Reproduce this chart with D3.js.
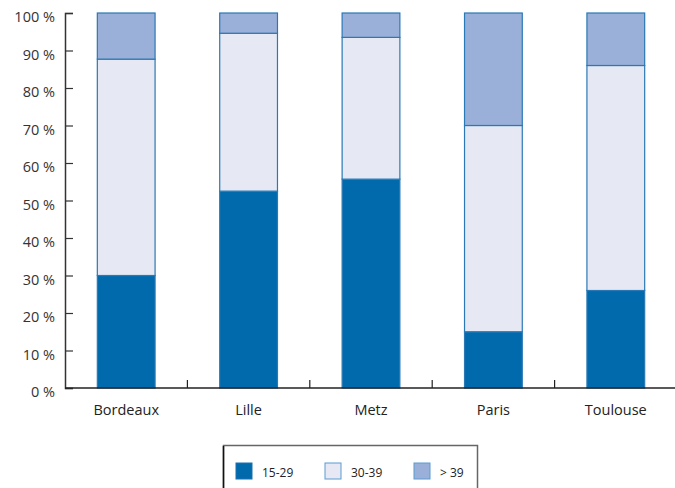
<!DOCTYPE html>
<html><head><meta charset="utf-8">
<script src="https://cdn.jsdelivr.net/npm/d3@7"></script>
<style>body{margin:0;background:#fff;}svg{display:block;font-family:"Open Sans",sans-serif;}</style>
</head><body>
<svg id="c" width="675" height="488"></svg>
<script>
const categories = ["Bordeaux","Lille","Metz","Paris","Toulouse"];
const seriesNames = ["15-29","30-39","> 39"];
const s1529 = [30, 52.5, 55.7, 15, 26];
const s3039 = [57.7, 42.1, 37.8, 55, 60];
const s39   = [12.3, 5.4, 6.5, 30, 14];
const yTicks = [0,10,20,30,40,50,60,70,80,90,100];
const colors = ["#006aac","#e6e9f3","#9bb0d8"];

const svg = d3.select("#c");
const x0 = 65, x1 = 677, yTop = 13, yBot = 388;
const x = d3.scaleBand().domain(categories).range([x0, x1]).paddingInner(0.52).paddingOuter(0.26);
const y = d3.scaleLinear().domain([0,100]).range([yBot, yTop]);

const rows = categories.map((c,i)=>({cat:c, "15-29":s1529[i], "30-39":s3039[i], "> 39":s39[i]}));
const stack = d3.stack().keys(seriesNames)(rows);

svg.append("g").selectAll("g").data(stack).join("g")
  .attr("fill",(d,i)=>colors[i])
  .selectAll("rect").data(d=>d).join("rect")
  .attr("x",d=>x(d.data.cat)+0.5)
  .attr("width",x.bandwidth()-1)
  .attr("y",d=>y(d[1]))
  .attr("height",d=>y(d[0])-y(d[1]))
  .attr("stroke","#2a78b5").attr("stroke-width",1.2);

// y axis
const ya = svg.append("g").attr("transform",`translate(${x0},0)`)
  .call(d3.axisRight(y).tickValues(yTicks).tickSize(8).tickFormat(""));
ya.select(".domain").attr("stroke","#333").attr("stroke-width",1.5);
ya.selectAll(".tick line").attr("stroke","#333").attr("stroke-width",1.2);
svg.append("g").selectAll("text").data(yTicks).join("text")
  .attr("x",55).attr("y",d=>y(d)+9).attr("text-anchor","end")
  .attr("font-size",14.5).attr("fill","#333").text(d=>d+" %");

// x axis
const step = x.step();
const sep = categories.slice(1).map((c,i)=>x0 + (i+1)*(x1-x0)/categories.length);
svg.append("line").attr("x1",x0).attr("x2",675).attr("y1",yBot).attr("y2",yBot)
  .attr("stroke","#222").attr("stroke-width",1.5);
svg.append("g").selectAll("line").data(sep).join("line")
  .attr("x1",d=>d).attr("x2",d=>d).attr("y1",yBot-8).attr("y2",yBot)
  .attr("stroke","#222").attr("stroke-width",1.2);
svg.append("g").selectAll("text").data(categories).join("text")
  .attr("x",d=>x(d)+x.bandwidth()/2).attr("y",415).attr("text-anchor","middle")
  .attr("font-size",14.5).attr("fill","#222").text(d=>d);

// legend
svg.append("rect").attr("x",223.5).attr("y",445.5).attr("width",254).attr("height",60)
  .attr("fill","#fff").attr("stroke","#666").attr("stroke-width",1.5);
svg.append("line").attr("x1",223.5).attr("x2",223.5).attr("y1",446).attr("y2",488).attr("stroke","#111").attr("stroke-width",1.5);
const lx = [236, 325, 414];
const lg = svg.append("g").selectAll("g").data(seriesNames).join("g")
  .attr("transform",(d,i)=>`translate(${lx[i]},463)`);
lg.append("rect").attr("width",16).attr("height",16).attr("fill",(d,i)=>colors[i])
  .attr("stroke",(d,i)=>i===0?"#1a70b0":"#5a9bd0").attr("stroke-width",1);
lg.append("text").attr("x",(d,i)=>i===2?26:26).attr("y",14).attr("font-size",12).attr("fill","#222").text(d=>d);
</script>
</body></html>
